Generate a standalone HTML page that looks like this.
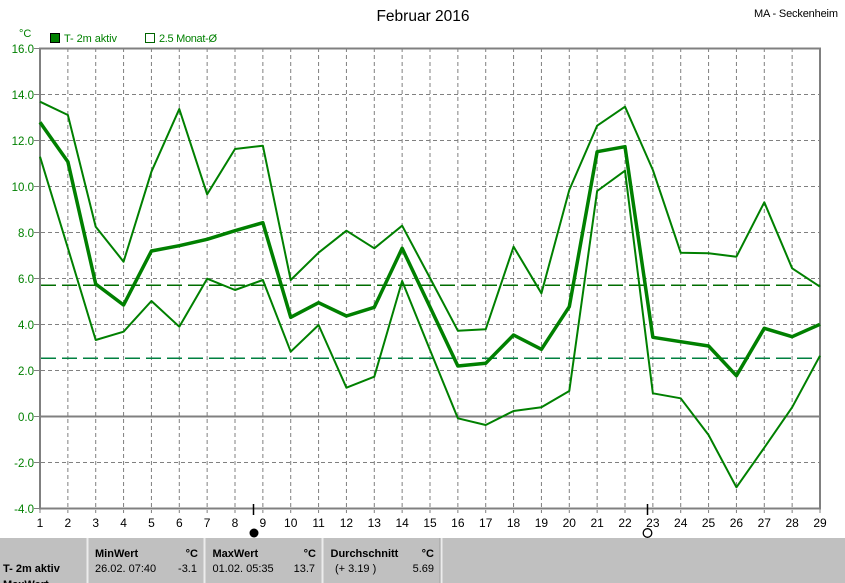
<!DOCTYPE html>
<html><head><meta charset="utf-8"><style>
html,body{margin:0;padding:0;background:#fff;}
svg{display:block;}
text{font-family:"Liberation Sans",sans-serif;}
</style></head><body>
<svg width="845" height="583" viewBox="0 0 845 583" xmlns="http://www.w3.org/2000/svg">
<rect x="0" y="0" width="845" height="583" fill="#fff"/>
<text x="423" y="21" font-size="15.5" text-anchor="middle" fill="#000">Februar 2016</text>
<text x="838" y="17" font-size="11" text-anchor="end" fill="#000" textLength="84">MA - Seckenheim</text>
<text x="19" y="37" font-size="11" fill="#008000">°C</text>
<rect x="50.5" y="33.5" width="9" height="9" fill="#008000" stroke="#000" stroke-width="1"/>
<text x="64" y="42" font-size="11" fill="#008000" textLength="53">T- 2m aktiv</text>
<rect x="145.5" y="33.5" width="9" height="9" fill="none" stroke="#006400" stroke-width="1"/>
<text x="159" y="42" font-size="11" fill="#008000" textLength="58">2.5 Monat-Ø</text>

<!-- grid -->
<g stroke="#808080" stroke-width="1" stroke-dasharray="4,3" fill="none">
<path d="M67.86 48V513M95.71 48V513M123.57 48V513M151.43 48V513M179.29 48V513M207.14 48V513M235 48V513M262.86 48V513M290.71 48V513M318.57 48V513M346.43 48V513M374.29 48V513M402.14 48V513M430 48V513M457.86 48V513M485.71 48V513M513.57 48V513M541.43 48V513M569.29 48V513M597.14 48V513M625 48V513M652.86 48V513M680.71 48V513M708.57 48V513M736.43 48V513M764.29 48V513M792.14 48V513"/>
<path d="M41 94.5H820M41 140.5H820M41 186.5H820M41 232.5H820M41 278.5H820M41 324.5H820M41 370.5H820M41 462.5H820"/>
</g>
<g stroke="#808080" stroke-width="1">
<path d="M34 48.5H40M34 94.5H40M34 140.5H40M34 186.5H40M34 232.5H40M34 278.5H40M34 324.5H40M34 370.5H40M34 416.5H40M34 462.5H40M34 508.5H40"/>
<path d="M40 508V513M820 508V513"/>
</g>
<!-- frame -->
<rect x="40" y="48.5" width="780" height="460" fill="none" stroke="#808080" stroke-width="2"/>
<path d="M40 416.5H820" stroke="#808080" stroke-width="2"/>

<!-- y labels -->
<g font-size="11.5" fill="#008000" text-anchor="end">
<text x="34" y="53">16.0</text>
<text x="34" y="99">14.0</text>
<text x="34" y="145">12.0</text>
<text x="34" y="191">10.0</text>
<text x="34" y="237">8.0</text>
<text x="34" y="283">6.0</text>
<text x="34" y="329">4.0</text>
<text x="34" y="375">2.0</text>
<text x="34" y="421">0.0</text>
<text x="34" y="467">-2.0</text>
<text x="34" y="513">-4.0</text>
</g>
<!-- x labels -->
<g font-size="12" fill="#000" text-anchor="middle">
<text x="40" y="527">1</text><text x="67.86" y="527">2</text><text x="95.71" y="527">3</text><text x="123.57" y="527">4</text><text x="151.43" y="527">5</text><text x="179.29" y="527">6</text><text x="207.14" y="527">7</text><text x="235" y="527">8</text><text x="262.86" y="527">9</text><text x="290.71" y="527">10</text><text x="318.57" y="527">11</text><text x="346.43" y="527">12</text><text x="374.29" y="527">13</text><text x="402.14" y="527">14</text><text x="430" y="527">15</text><text x="457.86" y="527">16</text><text x="485.71" y="527">17</text><text x="513.57" y="527">18</text><text x="541.43" y="527">19</text><text x="569.29" y="527">20</text><text x="597.14" y="527">21</text><text x="625" y="527">22</text><text x="652.86" y="527">23</text><text x="680.71" y="527">24</text><text x="708.57" y="527">25</text><text x="736.43" y="527">26</text><text x="764.29" y="527">27</text><text x="792.14" y="527">28</text><text x="820" y="527">29</text>
</g>

<!-- reference dashed lines -->
<path d="M41 285.2H820" stroke="#006c00" stroke-width="1.5" stroke-dasharray="15,6"/>
<path d="M41 358.3H820" stroke="#008040" stroke-width="1.5" stroke-dasharray="15,6"/>

<!-- series -->
<g fill="none" stroke="#008000" stroke-linejoin="round">
<polyline stroke-width="2" points="40,101.7 67.86,115 95.71,226.7 123.57,261.7 151.43,171.7 179.29,109 207.14,194.3 235,149 262.86,145.7 290.71,280 318.57,252.7 346.43,230.7 374.29,248.3 402.14,225.7 430,278 457.86,330.7 485.71,329.3 513.57,246.7 541.43,293.3 569.29,190 597.14,125.7 625,106.7 652.86,170 680.71,252.7 708.57,253.3 736.43,256.7 764.29,202.3 792.14,268.3 820,286.7"/>
<polyline stroke-width="3.5" points="40,122.3 67.86,161.7 95.71,284 123.57,305 151.43,251 179.29,245.7 207.14,239.3 235,230.7 262.86,222.7 290.71,317.3 318.57,302.7 346.43,316 374.29,307.3 402.14,248.3 430,307 457.86,366 485.71,363.3 513.57,335 541.43,349.3 569.29,306.7 597.14,151.7 625,146.7 652.86,337.3 680.71,341.7 708.57,346 736.43,375.7 764.29,328.3 792.14,336.7 820,324.3"/>
<polyline stroke-width="2" points="40,156.7 67.86,248 95.71,340 123.57,331.7 151.43,301 179.29,326.7 207.14,278.7 235,290 262.86,280 290.71,351.7 318.57,325 346.43,387.7 374.29,376.7 402.14,281 430,350 457.86,418.3 485.71,425 513.57,411 541.43,407.3 569.29,391 597.14,191 625,170.7 652.86,393.3 680.71,398.3 708.57,435 736.43,487.3 764.29,447.7 792.14,407.3 820,355.7"/>
</g>

<!-- moon markers -->
<path d="M253.5 504V515M647.5 504V515" stroke="#000" stroke-width="1.5"/>
<circle cx="254" cy="533" r="4.5" fill="#000"/>
<circle cx="647.5" cy="533" r="4.3" fill="none" stroke="#000" stroke-width="1.3"/>

<!-- bottom panel -->
<rect x="0" y="538" width="845" height="45" fill="#c0c0c0"/>
<g fill="#ececec">
<rect x="86.5" y="538" width="2" height="45"/>
<rect x="203.5" y="538" width="2" height="45"/>
<rect x="321.5" y="538" width="2" height="45"/>
<rect x="440.5" y="538" width="2" height="45"/>
</g>
<rect x="439.5" y="538" width="1" height="45" fill="#a0a0a0"/>
<g font-size="11" fill="#000">
<text x="3" y="572" font-weight="bold">T- 2m aktiv</text>
<text x="3" y="588" font-weight="bold">MaxWert</text>
<text x="95" y="557" font-weight="bold">MinWert</text>
<text x="198" y="557" font-weight="bold" text-anchor="end">°C</text>
<text x="95" y="572">26.02.  07:40</text>
<text x="197" y="572" text-anchor="end">-3.1</text>
<text x="212.5" y="557" font-weight="bold">MaxWert</text>
<text x="316" y="557" font-weight="bold" text-anchor="end">°C</text>
<text x="212.5" y="572">01.02.  05:35</text>
<text x="315" y="572" text-anchor="end">13.7</text>
<text x="330.5" y="557" font-weight="bold">Durchschnitt</text>
<text x="434" y="557" font-weight="bold" text-anchor="end">°C</text>
<text x="335" y="572">(+ 3.19 )</text>
<text x="434" y="572" text-anchor="end">5.69</text>
</g>
</svg>
</body></html>
